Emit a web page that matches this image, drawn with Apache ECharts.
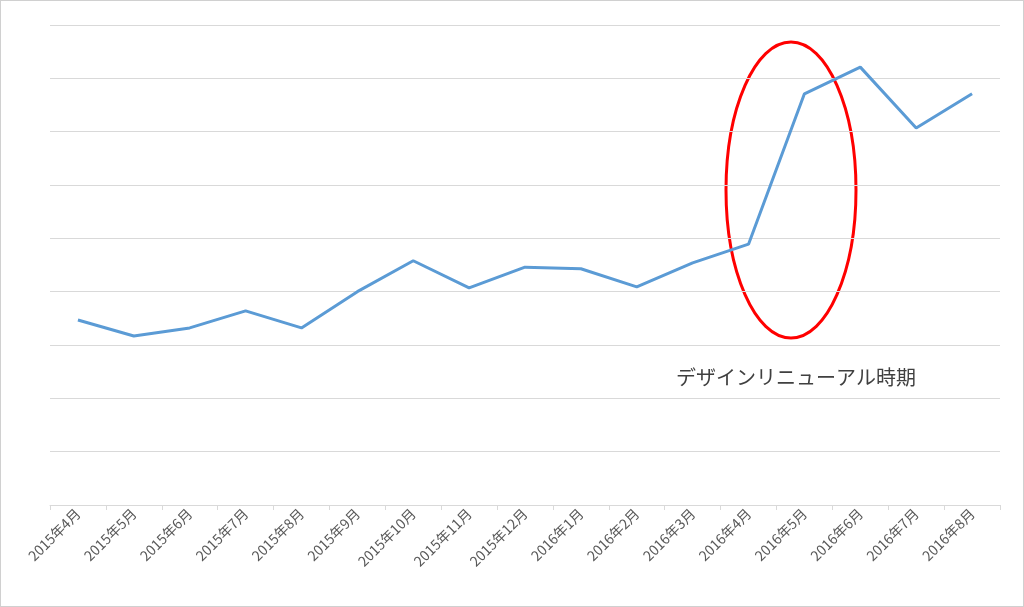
<!DOCTYPE html>
<html><head><meta charset="utf-8">
<script src="https://cdn.jsdelivr.net/npm/echarts@6/dist/echarts.min.js"></script>
<style>html,body{margin:0;padding:0;background:#fff}#c{width:1024px;height:607px;box-sizing:border-box;border:1px solid #d0d0d0}</style>
</head><body><div id="c"></div>
<script>
const categories=['2015年4月','2015年5月','2015年6月','2015年7月','2015年8月','2015年9月','2015年10月','2015年11月','2015年12月','2016年1月','2016年2月','2016年3月','2016年4月','2016年5月','2016年6月','2016年7月','2016年8月'];
const values=[3.47,3.17,3.32,3.64,3.32,4.0,4.58,4.07,4.46,4.43,4.09,4.54,4.89,7.71,8.21,7.07,7.71];
const annotation='デザインリニューアル時期';
const chart=echarts.init(document.getElementById('c'));
chart.setOption({
  animation:false,
  grid:{left:49,right:23,top:24,bottom:101},
  xAxis:{type:'category',data:categories,boundaryGap:true,
    axisLine:{lineStyle:{color:'#d9d9d9'}},axisTick:{show:true,lineStyle:{color:'#d9d9d9'},length:5},
    axisLabel:{rotate:45,color:'#595959',fontSize:14,fontFamily:'Noto Sans CJK JP',interval:0,margin:6}},
  yAxis:{type:'value',min:0,max:9,interval:1,axisLabel:{show:false},axisLine:{show:false},axisTick:{show:false},
    splitLine:{lineStyle:{color:'#d9d9d9',width:1}}},
  series:[{type:'line',data:values,showSymbol:false,lineStyle:{color:'#5b9bd5',width:3},itemStyle:{color:'#5b9bd5'}}],
  graphic:[
    {type:'ellipse',shape:{cx:790,cy:189,rx:65,ry:148},style:{fill:'none',stroke:'#ff0000',lineWidth:3}},
    {type:'text',left:675,top:366,style:{text:annotation,fill:'#404040',fontSize:20,fontFamily:'Noto Sans CJK JP'}}
  ]
});
</script></body></html>
